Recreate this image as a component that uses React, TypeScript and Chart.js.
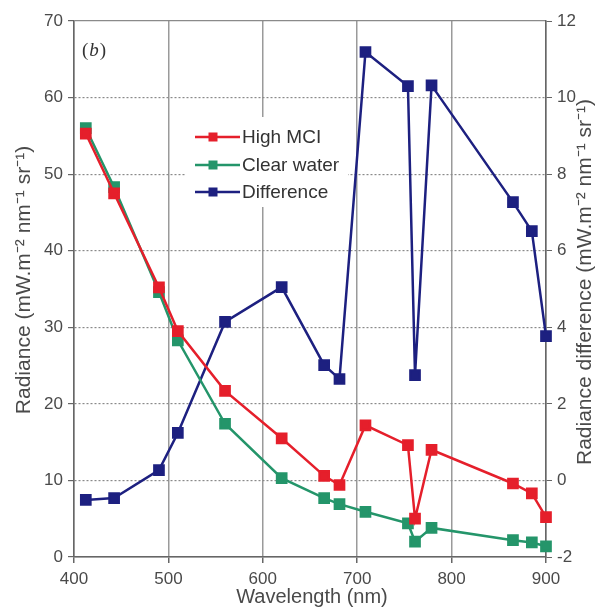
import React, { useEffect, useRef } from "react";
import { Chart, registerables } from "chart.js";

Chart.register(...registerables);

const wavelengths = [412.5, 442.5, 490, 510, 560, 620, 665, 681.25, 708.75, 753.75, 761.25, 778.75, 865, 885, 900];
const highMCI = [55.3, 47.5, 35.2, 29.5, 21.7, 15.5, 10.6, 9.4, 17.2, 14.6, 5.0, 14.0, 9.6, 8.3, 5.2];
const clearWater = [56.0, 48.3, 34.6, 28.3, 17.4, 10.3, 7.7, 6.9, 5.9, 4.4, 2.0, 3.8, 2.2, 1.9, 1.4];
const difference = [-0.51, -0.46, 0.27, 1.24, 4.14, 5.05, 3.01, 2.65, 11.19, 10.3, 2.75, 10.32, 7.27, 6.51, 3.77];

const seriesLabels = ["High MCI", "Clear water", "Difference"];
const seriesColors = ["#e51f2b", "#24956a", "#1d2080"];
const xTitle = "Wavelength (nm)";
const yTitle = "Radiance (mW.m\u207B\u00B2 nm\u207B\u00B9 sr\u207B\u00B9)";
const y2Title = "Radiance difference (mW.m\u207B\u00B2 nm\u207B\u00B9 sr\u207B\u00B9)";
const panelLabel = "b";

const FONT = "'Liberation Sans', Arial, sans-serif";
const TEXT = "#4a4a4a";

const overlayPlugin = {
  id: "overlay",
  afterDraw(chart: any) {
    const ctx = chart.ctx;
    const area = chart.chartArea;
    ctx.save();
    // Panel label "(b)"
    ctx.fillStyle = "#333";
    ctx.textBaseline = "middle";
    ctx.textAlign = "left";
    let px = area.left + 8;
    const py = 51;
    ctx.font = "19px 'Liberation Serif', serif";
    ctx.fillText("(", px, py);
    px += ctx.measureText("(").width + 1;
    ctx.font = "italic 19px 'Liberation Serif', serif";
    ctx.fillText(panelLabel, px, py);
    px += ctx.measureText(panelLabel).width + 1;
    ctx.font = "19px 'Liberation Serif', serif";
    ctx.fillText(")", px, py);

    // Legend box
    ctx.fillStyle = "#ffffff";
    ctx.fillRect(186, 117, 162, 90);
    const rows = [137, 165, 192];
    chart.data.datasets.forEach((ds: any, i: number) => {
      const y = rows[i];
      ctx.strokeStyle = ds.borderColor;
      ctx.lineWidth = 2.5;
      ctx.beginPath();
      ctx.moveTo(195, y);
      ctx.lineTo(240, y);
      ctx.stroke();
      ctx.fillStyle = ds.borderColor;
      ctx.fillRect(213 - 4.5, y - 4.5, 9, 9);
      ctx.fillStyle = "#333";
      ctx.font = "19px " + FONT;
      ctx.textAlign = "left";
      ctx.textBaseline = "middle";
      ctx.fillText(ds.label, 242, y + 1);
    });

    // Axis titles
    ctx.fillStyle = TEXT;
    ctx.font = "20px " + FONT;
    ctx.textAlign = "center";
    ctx.textBaseline = "middle";
    ctx.fillText(xTitle, 312, 597);

    ctx.font = "21px " + FONT;
    ctx.save();
    ctx.translate(24, 280);
    ctx.rotate(-Math.PI / 2);
    ctx.fillText(yTitle, 0, 0);
    ctx.restore();

    ctx.save();
    ctx.translate(585, 282);
    ctx.rotate(-Math.PI / 2);
    ctx.fillText(y2Title, 0, 0);
    ctx.restore();

    ctx.restore();
  },
};

export default function App() {
  const ref = useRef<HTMLCanvasElement | null>(null);

  useEffect(() => {
    document.body.style.margin = "0";
    const canvas = ref.current!;
    const mk = (vals: number[]) => wavelengths.map((w, i) => ({ x: w, y: vals[i] }));
    const common = {
      borderWidth: 2.5,
      pointStyle: "rect",
      pointRadius: 6.5,
      pointHoverRadius: 6.5,
      tension: 0,
      fill: false,
      clip: false,
    };
    const chart = new Chart(canvas, {
      type: "line",
      data: {
        datasets: [
          { ...common, label: seriesLabels[0], data: mk(highMCI), borderColor: seriesColors[0], backgroundColor: seriesColors[0], yAxisID: "y" },
          { ...common, label: seriesLabels[1], data: mk(clearWater), borderColor: seriesColors[1], backgroundColor: seriesColors[1], yAxisID: "y" },
          { ...common, label: seriesLabels[2], data: mk(difference), borderColor: seriesColors[2], backgroundColor: seriesColors[2], yAxisID: "y2" },
        ] as any,
      },
      options: {
        responsive: false,
        animation: false,
        layout: { padding: { top: 21, left: 0, right: 0, bottom: 0 } },
        plugins: { legend: { display: false }, tooltip: { enabled: false } },
        scales: {
          x: {
            type: "linear",
            min: 400,
            max: 900,
            afterFit: (s: any) => { s.height = 55; },
            ticks: { stepSize: 100, color: TEXT, font: { family: FONT, size: 17 }, padding: 6 },
            grid: { color: "#9a9a9a", lineWidth: 1.5, tickLength: 6, tickColor: "#666" },
            border: { color: "#666", width: 1.5 },
          },
          y: {
            type: "linear",
            position: "left",
            min: 0,
            max: 70,
            afterFit: (s: any) => { s.width = 74; },
            ticks: { stepSize: 10, color: TEXT, font: { family: FONT, size: 17 }, padding: 5 },
            grid: {
              color: "#8a8a8a",
              lineWidth: 1.2,
              tickLength: 6,
              tickColor: "#666",
            },
            border: {
              color: "#666",
              width: 1.5,
              dash: (c: any) => (c.tick && c.tick.value !== 0 && c.tick.value !== 70 ? [2, 2] : []),
            } as any,
          },
          y2: {
            type: "linear",
            position: "right",
            min: -2,
            max: 12,
            afterFit: (s: any) => { s.width = 52; },
            ticks: { stepSize: 2, color: TEXT, font: { family: FONT, size: 17 }, padding: 5 },
            grid: { drawOnChartArea: false, tickLength: 6, tickColor: "#666", color: "#666" },
            border: { color: "#666", width: 1.5 },
          },
        },
      } as any,
      plugins: [overlayPlugin],
    });
    return () => chart.destroy();
  }, []);

  return (
    <div style={{ position: "absolute", left: 0, top: 0, width: 598, height: 612, background: "#fff" }}>
      <canvas ref={ref} width={598} height={612} style={{ display: "block", width: 598, height: 612 }} />
    </div>
  );
}
